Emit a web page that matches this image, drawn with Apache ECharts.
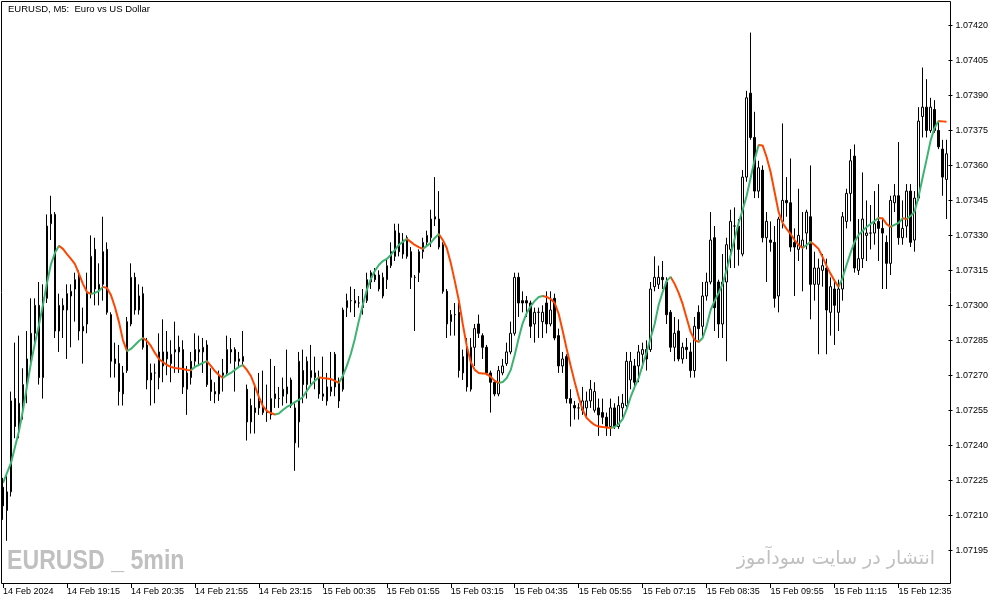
<!DOCTYPE html>
<html><head><meta charset="utf-8">
<script src="https://cdn.jsdelivr.net/npm/echarts@6/dist/echarts.min.js"></script>
<style>html,body{margin:0;padding:0;background:#fff}#c{width:1003px;height:605px}</style>
</head><body><div id="c"></div>
<script>
const chartTitle = 'EURUSD, M5:  Euro vs US Dollar';
const watermarkLeft = 'EURUSD _ 5min';
const watermarkRight = 'انتشار در سایت سودآموز';
const tickLabels = ['14 Feb 2024','14 Feb 19:15','14 Feb 20:35','14 Feb 21:55','14 Feb 23:15','15 Feb 00:35','15 Feb 01:55','15 Feb 03:15','15 Feb 04:35','15 Feb 05:55','15 Feb 07:15','15 Feb 08:35','15 Feb 09:55','15 Feb 11:15','15 Feb 12:35'];
const priceTicks = [1.07195,1.07210,1.07225,1.07240,1.07255,1.07270,1.07285,1.07300,1.07315,1.07330,1.07345,1.07360,1.07375,1.07390,1.07405,1.07420];

const openP = [
1.07222,1.07212,1.07220,1.07260,1.07248,1.07258,1.07266,1.07278,1.07288,1.07300,
1.07269,1.07303,1.07335,1.07339,1.07289,1.07298,1.07298,1.07304,1.07307,1.07313,
1.07289,1.07292,1.07305,1.07324,1.07307,1.07309,1.07324,1.07296,1.07277,1.07275,
1.07262,1.07272,1.07292,1.07312,1.07298,1.07305,1.07283,1.07268,1.07271,1.07269,
1.07280,1.07277,1.07275,1.07280,1.07282,1.07281,1.07264,1.07269,1.07276,1.07280,
1.07280,1.07283,1.07268,1.07263,1.07262,1.07270,1.07271,1.07281,1.07281,1.07276,
1.07278,1.07264,1.07257,1.07256,1.07256,1.07254,1.07254,1.07253,1.07262,1.07260,
1.07261,1.07262,1.07268,1.07241,1.07250,1.07272,1.07266,1.07269,1.07269,1.07269,
1.07262,1.07259,1.07263,1.07279,1.07267,1.07264,1.07299,1.07302,1.07302,1.07301,
1.07299,1.07302,1.07310,1.07313,1.07313,1.07304,1.07311,1.07317,1.07321,1.07331,
1.07322,1.07329,1.07323,1.07312,1.07314,1.07323,1.07327,1.07329,1.07337,1.07337,
1.07326,1.07306,1.07293,1.07296,1.07297,1.07271,1.07282,1.07264,1.07282,1.07292,
1.07287,1.07282,1.07271,1.07267,1.07262,1.07271,1.07275,1.07280,1.07288,1.07312,
1.07302,1.07302,1.07301,1.07292,1.07297,1.07293,1.07301,1.07292,1.07303,1.07287,
1.07274,1.07278,1.07260,1.07257,1.07256,1.07255,1.07256,1.07259,1.07255,1.07256,
1.07254,1.07252,1.07248,1.07256,1.07248,1.07256,1.07257,1.07268,1.07274,1.07274,
1.07279,1.07281,1.07281,1.07308,1.07309,1.07312,1.07310,1.07297,1.07282,1.07289,
1.07277,1.07282,1.07280,1.07272,1.07297,1.07291,1.07304,1.07310,1.07329,1.07310,
1.07292,1.07310,1.07324,1.07334,1.07334,1.07322,1.07355,1.07391,1.07372,1.07349,
1.07358,1.07329,1.07328,1.07327,1.07304,1.07336,1.07345,1.07344,1.07327,1.07324,
1.07325,1.07331,1.07338,1.07309,1.07309,1.07315,1.07316,1.07297,1.07307,1.07297,
1.07307,1.07336,1.07348,1.07364,1.07315,1.07320,1.07330,1.07331,1.07331,1.07336,
1.07333,1.07327,1.07318,1.07344,1.07347,1.07329,1.07334,1.07349,1.07328,1.07346,
1.07381,1.07385,1.07375,1.07384,1.07375,1.07367,1.07354];

const closeP = [
1.07214,1.07220,1.07259,1.07248,1.07258,1.07266,1.07277,1.07288,1.07300,1.07269,
1.07303,1.07334,1.07339,1.07289,1.07300,1.07300,1.07305,1.07306,1.07311,1.07289,
1.07291,1.07305,1.07321,1.07307,1.07309,1.07323,1.07297,1.07276,1.07275,1.07263,
1.07271,1.07293,1.07312,1.07298,1.07304,1.07282,1.07268,1.07271,1.07271,1.07280,
1.07274,1.07280,1.07279,1.07281,1.07280,1.07265,1.07271,1.07276,1.07281,1.07281,
1.07282,1.07266,1.07263,1.07262,1.07270,1.07271,1.07281,1.07280,1.07276,1.07277,
1.07276,1.07250,1.07250,1.07254,1.07259,1.07256,1.07254,1.07260,1.07260,1.07260,
1.07264,1.07265,1.07257,1.07256,1.07276,1.07266,1.07276,1.07272,1.07271,1.07262,
1.07261,1.07265,1.07265,1.07265,1.07259,1.07298,1.07302,1.07302,1.07301,1.07301,
1.07302,1.07311,1.07314,1.07311,1.07307,1.07312,1.07317,1.07323,1.07332,1.07323,
1.07328,1.07321,1.07312,1.07312,1.07323,1.07327,1.07330,1.07337,1.07338,1.07325,
1.07306,1.07292,1.07296,1.07296,1.07272,1.07278,1.07265,1.07282,1.07290,1.07288,
1.07282,1.07271,1.07267,1.07262,1.07272,1.07274,1.07280,1.07288,1.07312,1.07301,
1.07301,1.07301,1.07291,1.07297,1.07297,1.07297,1.07292,1.07298,1.07286,1.07274,
1.07277,1.07260,1.07258,1.07256,1.07256,1.07259,1.07259,1.07264,1.07263,1.07253,
1.07252,1.07248,1.07256,1.07248,1.07257,1.07258,1.07276,1.07276,1.07267,1.07280,
1.07281,1.07277,1.07307,1.07312,1.07312,1.07311,1.07296,1.07282,1.07288,1.07277,
1.07282,1.07281,1.07272,1.07291,1.07290,1.07304,1.07310,1.07328,1.07299,1.07292,
1.07310,1.07326,1.07336,1.07334,1.07324,1.07355,1.07389,1.07372,1.07349,1.07359,
1.07329,1.07336,1.07327,1.07303,1.07337,1.07345,1.07344,1.07325,1.07325,1.07330,
1.07328,1.07340,1.07309,1.07316,1.07316,1.07317,1.07298,1.07308,1.07300,1.07307,
1.07338,1.07348,1.07362,1.07316,1.07320,1.07337,1.07331,1.07331,1.07335,1.07333,
1.07331,1.07318,1.07345,1.07347,1.07329,1.07333,1.07349,1.07327,1.07346,1.07379,
1.07385,1.07375,1.07385,1.07375,1.07368,1.07355,1.07365];

const highP = [
1.07226,1.07228,1.07263,1.07284,1.07287,1.07273,1.07289,1.07303,1.07303,1.07310,
1.07309,1.07339,1.07347,1.07340,1.07305,1.07303,1.07309,1.07309,1.07314,1.07315,
1.07299,1.07314,1.07330,1.07329,1.07318,1.07338,1.07327,1.07297,1.07284,1.07283,
1.07274,1.07295,1.07318,1.07314,1.07309,1.07308,1.07286,1.07275,1.07275,1.07288,
1.07294,1.07289,1.07285,1.07293,1.07287,1.07285,1.07274,1.07280,1.07288,1.07287,
1.07286,1.07285,1.07273,1.07267,1.07272,1.07277,1.07287,1.07286,1.07282,1.07280,
1.07289,1.07266,1.07260,1.07266,1.07271,1.07272,1.07266,1.07277,1.07274,1.07265,
1.07269,1.07281,1.07269,1.07258,1.07280,1.07281,1.07278,1.07283,1.07278,1.07272,
1.07278,1.07271,1.07280,1.07280,1.07269,1.07299,1.07305,1.07308,1.07307,1.07304,
1.07307,1.07314,1.07315,1.07316,1.07315,1.07314,1.07320,1.07327,1.07335,1.07335,
1.07331,1.07330,1.07325,1.07313,1.07324,1.07329,1.07332,1.07341,1.07355,1.07349,
1.07327,1.07307,1.07298,1.07301,1.07301,1.07281,1.07286,1.07286,1.07292,1.07296,
1.07288,1.07283,1.07272,1.07268,1.07274,1.07277,1.07284,1.07293,1.07314,1.07314,
1.07306,1.07304,1.07302,1.07299,1.07299,1.07300,1.07306,1.07306,1.07305,1.07290,
1.07280,1.07279,1.07264,1.07259,1.07258,1.07265,1.07263,1.07268,1.07267,1.07260,
1.07260,1.07254,1.07260,1.07258,1.07261,1.07262,1.07280,1.07280,1.07277,1.07283,
1.07284,1.07285,1.07310,1.07321,1.07317,1.07319,1.07312,1.07298,1.07295,1.07294,
1.07284,1.07286,1.07284,1.07295,1.07300,1.07310,1.07314,1.07340,1.07334,1.07311,
1.07322,1.07329,1.07341,1.07342,1.07337,1.07358,1.07392,1.07417,1.07383,1.07362,
1.07360,1.07340,1.07336,1.07334,1.07338,1.07378,1.07355,1.07363,1.07333,1.07350,
1.07340,1.07341,1.07360,1.07323,1.07320,1.07322,1.07320,1.07312,1.07311,1.07311,
1.07340,1.07350,1.07367,1.07369,1.07337,1.07357,1.07345,1.07343,1.07349,1.07352,
1.07337,1.07330,1.07347,1.07352,1.07370,1.07345,1.07352,1.07352,1.07349,1.07385,
1.07402,1.07397,1.07389,1.07388,1.07379,1.07371,1.07371];

const lowP = [
1.07208,1.07199,1.07218,1.07243,1.07243,1.07251,1.07258,1.07274,1.07284,1.07266,
1.07260,1.07301,1.07328,1.07286,1.07280,1.07286,1.07277,1.07282,1.07293,1.07285,
1.07275,1.07288,1.07303,1.07300,1.07300,1.07302,1.07296,1.07269,1.07269,1.07257,
1.07257,1.07271,1.07291,1.07296,1.07296,1.07281,1.07264,1.07257,1.07258,1.07264,
1.07267,1.07270,1.07267,1.07271,1.07271,1.07262,1.07253,1.07266,1.07274,1.07274,
1.07271,1.07265,1.07259,1.07258,1.07259,1.07263,1.07270,1.07275,1.07263,1.07274,
1.07274,1.07242,1.07245,1.07245,1.07253,1.07253,1.07250,1.07251,1.07256,1.07256,
1.07257,1.07258,1.07256,1.07229,1.07239,1.07258,1.07260,1.07266,1.07264,1.07260,
1.07259,1.07257,1.07261,1.07261,1.07256,1.07263,1.07295,1.07297,1.07295,1.07299,
1.07296,1.07301,1.07307,1.07310,1.07306,1.07303,1.07307,1.07316,1.07319,1.07321,
1.07320,1.07320,1.07307,1.07289,1.07310,1.07320,1.07325,1.07325,1.07334,1.07324,
1.07305,1.07286,1.07287,1.07287,1.07269,1.07268,1.07263,1.07263,1.07274,1.07286,
1.07277,1.07270,1.07254,1.07261,1.07261,1.07270,1.07274,1.07279,1.07287,1.07295,
1.07297,1.07295,1.07286,1.07284,1.07286,1.07286,1.07288,1.07291,1.07285,1.07271,
1.07271,1.07258,1.07248,1.07251,1.07251,1.07253,1.07252,1.07256,1.07254,1.07244,
1.07249,1.07244,1.07244,1.07247,1.07247,1.07251,1.07255,1.07264,1.07264,1.07267,
1.07273,1.07272,1.07280,1.07306,1.07307,1.07307,1.07292,1.07280,1.07276,1.07276,
1.07275,1.07277,1.07269,1.07269,1.07285,1.07286,1.07302,1.07309,1.07289,1.07286,
1.07286,1.07276,1.07316,1.07316,1.07317,1.07321,1.07353,1.07371,1.07346,1.07346,
1.07327,1.07310,1.07323,1.07299,1.07297,1.07333,1.07338,1.07323,1.07304,1.07319,
1.07306,1.07324,1.07294,1.07302,1.07279,1.07308,1.07279,1.07287,1.07283,1.07289,
1.07302,1.07333,1.07336,1.07314,1.07313,1.07316,1.07319,1.07324,1.07326,1.07319,
1.07307,1.07307,1.07313,1.07340,1.07326,1.07326,1.07329,1.07325,1.07323,1.07345,
1.07372,1.07372,1.07374,1.07374,1.07367,1.07347,1.07337];

const maLine = [
1.072238,1.072281,1.072324,1.072392,1.072461,1.072551,1.072654,1.072753,1.072839,1.072916,
1.073002,1.073096,1.073177,1.073225,1.073255,1.073242,1.073220,1.073199,1.073177,1.073135,
1.073092,1.073057,1.073049,1.073053,1.073062,1.073079,1.073074,1.073044,1.072993,1.072929,
1.072851,1.072804,1.072813,1.072830,1.072847,1.072860,1.072847,1.072826,1.072796,1.072770,
1.072757,1.072744,1.072736,1.072731,1.072729,1.072727,1.072723,1.072721,1.072736,1.072744,
1.072753,1.072761,1.072740,1.072718,1.072701,1.072688,1.072701,1.072710,1.072723,1.072736,
1.072744,1.072723,1.072697,1.072654,1.072607,1.072568,1.072547,1.072538,1.072532,1.072536,
1.072551,1.072564,1.072573,1.072585,1.072594,1.072607,1.072633,1.072658,1.072676,1.072691,
1.072688,1.072686,1.072684,1.072676,1.072667,1.072697,1.072740,1.072791,1.072856,1.072933,
1.073002,1.073066,1.073113,1.073147,1.073173,1.073190,1.073199,1.073216,1.073237,1.073259,
1.073272,1.073285,1.073272,1.073259,1.073250,1.073242,1.073255,1.073268,1.073289,1.073306,
1.073280,1.073246,1.073182,1.073105,1.073023,1.072920,1.072826,1.072757,1.072723,1.072710,
1.072708,1.072706,1.072693,1.072676,1.072667,1.072671,1.072688,1.072723,1.072787,1.072860,
1.072924,1.072967,1.072997,1.073019,1.073036,1.073040,1.073036,1.073027,1.073010,1.072963,
1.072890,1.072813,1.072740,1.072671,1.072607,1.072551,1.072517,1.072500,1.072487,1.072480,
1.072478,1.072476,1.072474,1.072478,1.072491,1.072512,1.072555,1.072607,1.072650,1.072688,
1.072744,1.072800,1.072860,1.072920,1.073002,1.073057,1.073105,1.073122,1.073092,1.073053,
1.073006,1.072946,1.072886,1.072851,1.072843,1.072860,1.072911,1.072980,1.073019,1.073053,
1.073092,1.073152,1.073216,1.073285,1.073353,1.073409,1.073469,1.073546,1.073624,1.073688,
1.073686,1.073636,1.073572,1.073486,1.073401,1.073353,1.073328,1.073306,1.073280,1.073259,
1.073246,1.073259,1.073272,1.073259,1.073242,1.073207,1.073169,1.073135,1.073105,1.073079,
1.073117,1.073173,1.073225,1.073272,1.073302,1.073319,1.073336,1.073349,1.073362,1.073375,
1.073373,1.073349,1.073336,1.073345,1.073353,1.073373,1.073370,1.073383,1.073401,1.073465,
1.073546,1.073624,1.073705,1.073761,1.073791,1.073789,1.073787];

const GREEN = '#3CB371', ORANGE = '#FF4500';
const N = openP.length;
const startMin = 17 * 60 + 55;
const categories = openP.map((_, i) => {
  const t = startMin + 5 * i;
  const d = 14 + Math.floor(t / 1440), m = t % 1440;
  return d + ' Feb ' + String(Math.floor(m / 60)).padStart(2, '0') + ':' + String(m % 60).padStart(2, '0');
});
const candles = openP.map((o, i) => [o, closeP[i], lowP[i], highP[i]]);

const segColor = i => maLine[i] >= maLine[i - 1] ? GREEN : ORANGE;
const pieces = [];
let runStart = 0, runColor = segColor(1);
for (let i = 2; i < N; i++) {
  const c = segColor(i);
  if (c !== runColor) { pieces.push({ gte: runStart, lt: i - 1, color: runColor }); runStart = i - 1; runColor = c; }
}
pieces.push({ gte: runStart, lte: N - 1, color: runColor });

const FONT = '"Liberation Sans", Arial, sans-serif';
const chart = echarts.init(document.getElementById('c'), null, { renderer: 'canvas' });
chart.setOption({
  animation: false,
  backgroundColor: '#ffffff',
  grid: { left: 0.5, top: 2, width: 948, bottom: 22 },
  xAxis: {
    type: 'category', data: categories, boundaryGap: true,
    axisLine: { show: false },
    axisTick: { show: true, alignWithLabel: true, interval: i => i % 16 === 0, length: 5, lineStyle: { color: '#000' } },
    axisLabel: { interval: i => i % 16 === 0, formatter: (v, i) => tickLabels[Math.round(i / 16)], align: 'left', margin: 4, color: '#000', fontFamily: FONT, fontSize: 9 },
    splitLine: { show: false }
  },
  yAxis: {
    type: 'value', position: 'right', min: 1.071809, max: 1.074301,
    splitLine: { show: false }, axisLine: { show: false },
    axisTick: { show: true, customValues: priceTicks, length: 4, lineStyle: { color: '#000' } },
    axisLabel: { customValues: priceTicks, formatter: v => v.toFixed(5), margin: 7, color: '#000', fontFamily: FONT, fontSize: 9 }
  },
  visualMap: { type: 'piecewise', show: false, dimension: 0, seriesIndex: 1, pieces: pieces },
  series: [
    { type: 'candlestick', data: candles, barWidth: 2, z: 2,
      itemStyle: { color: '#ffffff', color0: '#000000', borderColor: '#000000', borderColor0: '#000000', borderColorDoji: '#000000', borderWidth: 1 } },
    { type: 'line', data: maLine, symbol: 'none', showSymbol: false, z: 3, lineStyle: { width: 2 } }
  ],
  graphic: [
    { type: 'rect', silent: true, z: 10, shape: { x: 1.5, y: 1.5, width: 949, height: 582 }, style: { fill: 'none', stroke: '#000', lineWidth: 1 } },
    { type: 'text', left: 8, top: 4, z: 11, style: { text: chartTitle, fill: '#000', font: '9.5px ' + FONT } },
    { type: 'text', x: 7, y: 548, scaleX: 0.89, scaleY: 1.03, z: 11, style: { text: watermarkLeft, fill: '#c0c0c0', textVerticalAlign: 'top', font: 'bold 26px "Liberation Sans", sans-serif' } },
    { type: 'text', right: 68, top: 550, z: 11, style: { text: watermarkRight, fill: '#c0c0c0', font: '19px "DejaVu Sans", sans-serif' } }
  ]
});
</script>
</body></html>
